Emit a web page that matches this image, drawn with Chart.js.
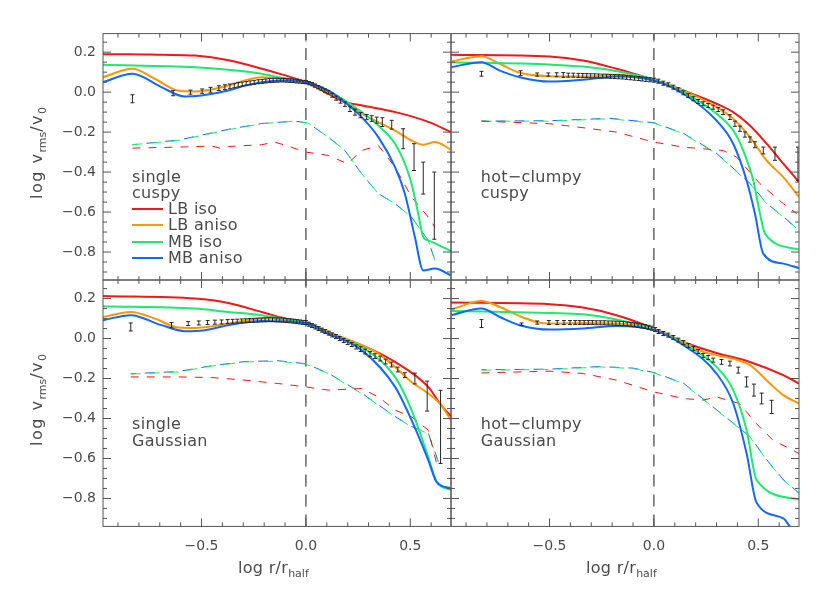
<!DOCTYPE html>
<html><head><meta charset="utf-8"><title>v_rms profiles</title>
<script src="https://cdn.jsdelivr.net/npm/chart.js@4.4.1/dist/chart.umd.min.js"></script>
<style>
html,body{margin:0;padding:0;background:#fff;}
#fig{position:relative;width:830px;height:593px;overflow:hidden;font-family:"DejaVu Sans",sans-serif;color:#4a4a4a;}
#fig canvas{position:absolute;left:0;top:0;}
.lbl{position:absolute;font-size:16px;line-height:16px;white-space:nowrap;letter-spacing:0.3px;}
.sub{font-size:11px;position:relative;top:4px;letter-spacing:0;}
.yt{position:absolute;font-size:16px;line-height:16px;white-space:nowrap;letter-spacing:1.5px;transform:translate(-50%,-50%) rotate(-90deg);}
.key{position:absolute;height:2px;width:31px;}
</style></head><body><div id="fig"></div>
<script>
// ---------- tick labels / names ----------
const xTickLabels = [-0.5, 0.0, 0.5];
const yTickLabels = [-0.8, -0.6, -0.4, -0.2, 0.0, 0.2];
const seriesNames = ['LB iso', 'LB aniso', 'MB iso', 'MB aniso'];
const panelNames = [['single', 'cuspy'], ['hot\u2212clumpy', 'cuspy'], ['single', 'Gaussian'], ['hot\u2212clumpy', 'Gaussian']];

// ---------- single / cuspy ----------
const scLBiso = [[-0.972,0.19],[-0.85,0.19],[-0.69,0.187],[-0.53,0.183],[-0.37,0.16],[-0.21,0.117],[-0.12,0.09],[0,0.05],[0.11,-0.01],[0.19,-0.05],[0.27,-0.067],[0.43,-0.1],[0.59,-0.15],[0.695,-0.2]];
const scLBaniso = [[-0.972,0.075],[-0.831,0.117],[-0.724,0.067],[-0.612,0.008],[-0.532,0.003],[-0.452,0.013],[-0.372,0.033],[-0.292,0.058],[-0.212,0.075],[-0.117,0.07],[0,0.05],[0.107,0],[0.187,-0.05],[0.267,-0.108],[0.347,-0.15],[0.427,-0.192],[0.506,-0.242],[0.562,-0.263],[0.618,-0.25],[0.695,-0.287]];
const scMBiso = [[-0.972,0.137],[-0.532,0.125],[-0.372,0.112],[-0.212,0.092],[-0.117,0.072],[0,0.05],[0.107,0.008],[0.187,-0.042],[0.267,-0.1],[0.347,-0.167],[0.427,-0.258],[0.474,-0.358],[0.506,-0.458],[0.538,-0.608],[0.562,-0.725],[0.586,-0.742],[0.695,-0.795]];
const scMBaniso = [[-0.972,0.05],[-0.831,0.092],[-0.692,0.025],[-0.58,-0.022],[-0.5,-0.017],[-0.372,0.008],[-0.292,0.033],[-0.212,0.05],[-0.117,0.058],[0,0.05],[0.107,0.008],[0.187,-0.05],[0.267,-0.125],[0.347,-0.225],[0.427,-0.375],[0.474,-0.508],[0.522,-0.725],[0.562,-0.892],[0.618,-0.883],[0.695,-0.917]];
const scLBisoD = [[-0.831,-0.28],[-0.612,-0.275],[-0.45,-0.27],[-0.40,-0.283],[-0.372,-0.272],[-0.25,-0.265],[-0.212,-0.263],[-0.15,-0.25],[-0.1,-0.265],[0,-0.3],[0.07,-0.31],[0.107,-0.317],[0.2,-0.358],[0.267,-0.292],[0.347,-0.267],[0.427,-0.375],[0.506,-0.525],[0.586,-0.625],[0.618,-0.675]];
const scMBisoD = [[-0.831,-0.263],[-0.612,-0.242],[-0.372,-0.188],[-0.212,-0.158],[-0.053,-0.145],[0.011,-0.155],[0.107,-0.225],[0.187,-0.292],[0.267,-0.408],[0.347,-0.508],[0.427,-0.558],[0.506,-0.625],[0.586,-0.742],[0.618,-0.842]];
const scMBanisoD = [[-0.831,-0.263],[-0.612,-0.24],[-0.372,-0.186],[-0.212,-0.157],[-0.053,-0.145],[0.011,-0.155],[0.107,-0.225],[0.187,-0.292],[0.267,-0.408],[0.347,-0.508],[0.427,-0.558],[0.506,-0.625],[0.586,-0.742],[0.618,-0.842]];
const scErrX = [-0.831,-0.636,-0.553,-0.497,-0.457,-0.417,-0.388,-0.364,-0.343,-0.324,-0.305,-0.286,-0.267,-0.248,-0.228,-0.209,-0.192,-0.174,-0.157,-0.139,-0.123,-0.107,-0.091,-0.075,-0.059,-0.043,-0.029,-0.014,0,0.014,0.029,0.043,0.059,0.075,0.091,0.107,0.126,0.145,0.166,0.187,0.211,0.235,0.262,0.291,0.315,0.339,0.366,0.411,0.466,0.518,0.562,0.615];
const scErrY = [-0.033,-0.005,0,0.005,0.012,0.02,0.025,0.03,0.033,0.037,0.04,0.043,0.046,0.049,0.052,0.054,0.056,0.058,0.059,0.06,0.06,0.06,0.059,0.058,0.057,0.055,0.053,0.051,0.05,0.045,0.04,0.033,0.025,0.017,0.008,0,-0.015,-0.03,-0.045,-0.06,-0.085,-0.1,-0.115,-0.125,-0.132,-0.14,-0.15,-0.163,-0.233,-0.325,-0.43,-0.568];
const scErrE = [0.02,0.013,0.01,0.011,0.012,0.012,0.012,0.011,0.011,0.011,0.01,0.01,0.01,0.01,0.01,0.01,0.01,0.01,0.01,0.01,0.009,0.009,0.009,0.009,0.009,0.009,0.008,0.008,0.008,0.008,0.008,0.008,0.008,0.008,0.009,0.009,0.01,0.01,0.01,0.011,0.012,0.015,0.013,0.013,0.014,0.015,0.022,0.022,0.05,0.067,0.08,0.168];

// ---------- hot-clumpy / cuspy ----------
const hcLBiso = [[-0.972,0.187],[-0.5,0.178],[-0.339,0.158],[-0.179,0.117],[-0.083,0.088],[0,0.062],[0.141,0.008],[0.30,-0.058],[0.38,-0.1],[0.46,-0.167],[0.54,-0.258],[0.62,-0.358],[0.695,-0.45]];
const hcLBaniso = [[-0.972,0.153],[-0.826,0.18],[-0.738,0.142],[-0.642,0.097],[-0.5,0.08],[-0.339,0.078],[-0.179,0.087],[0,0.058],[0.141,0.008],[0.30,-0.075],[0.38,-0.133],[0.46,-0.225],[0.54,-0.342],[0.62,-0.425],[0.695,-0.525]];
const hcMBiso = [[-0.972,0.15],[-0.5,0.138],[-0.339,0.128],[-0.179,0.105],[0,0.062],[0.141,0],[0.30,-0.108],[0.38,-0.192],[0.428,-0.292],[0.476,-0.442],[0.508,-0.608],[0.532,-0.708],[0.695,-0.788]];
const hcMBaniso = [[-0.972,0.125],[-0.826,0.15],[-0.738,0.108],[-0.642,0.075],[-0.5,0.053],[-0.339,0.062],[-0.179,0.078],[0,0.058],[0.141,-0.008],[0.30,-0.142],[0.38,-0.258],[0.444,-0.442],[0.484,-0.608],[0.524,-0.808],[0.62,-0.858],[0.695,-0.88]];
const hcLBisoD = [[-0.826,-0.145],[-0.5,-0.158],[-0.339,-0.178],[-0.179,-0.2],[0,-0.25],[0.141,-0.275],[0.332,-0.292],[0.396,-0.325],[0.508,-0.458],[0.62,-0.558],[0.684,-0.608]];
const hcMBisoD = [[-0.826,-0.145],[-0.5,-0.145],[-0.211,-0.133],[0,-0.155],[0.141,-0.208],[0.30,-0.308],[0.46,-0.458],[0.54,-0.558],[0.62,-0.625],[0.695,-0.692]];
const hcMBanisoD = [[-0.826,-0.145],[-0.5,-0.143],[-0.211,-0.131],[0,-0.153],[0.141,-0.206],[0.30,-0.306],[0.46,-0.456],[0.54,-0.556],[0.62,-0.623],[0.695,-0.69]];
const hcErrX = [-0.826,-0.639,-0.559,-0.506,-0.466,-0.434,-0.410,-0.386,-0.362,-0.341,-0.322,-0.303,-0.284,-0.265,-0.246,-0.227,-0.208,-0.188,-0.169,-0.150,-0.131,-0.112,-0.093,-0.073,-0.056,-0.038,-0.019,0,0.021,0.045,0.069,0.093,0.117,0.141,0.165,0.189,0.212,0.236,0.260,0.284,0.308,0.332,0.364,0.388,0.412,0.436,0.460,0.484,0.524,0.58,0.69];
const hcErrY = [0.092,0.095,0.088,0.088,0.087,0.086,0.085,0.085,0.084,0.083,0.083,0.082,0.082,0.081,0.08,0.08,0.079,0.078,0.077,0.076,0.074,0.072,0.07,0.068,0.066,0.064,0.062,0.06,0.055,0.045,0.037,0.025,0.012,-0.003,-0.017,-0.033,-0.047,-0.058,-0.067,-0.075,-0.087,-0.1,-0.125,-0.158,-0.183,-0.212,-0.237,-0.263,-0.292,-0.308,-0.358];
const hcErrE = [0.012,0.012,0.008,0.008,0.01,0.012,0.01,0.01,0.01,0.01,0.01,0.01,0.01,0.01,0.01,0.01,0.01,0.01,0.01,0.01,0.01,0.01,0.01,0.01,0.01,0.01,0.01,0.01,0.01,0.01,0.01,0.01,0.01,0.01,0.01,0.01,0.01,0.01,0.01,0.01,0.01,0.012,0.012,0.013,0.013,0.013,0.013,0.015,0.017,0.033,0.083];

// ---------- single / Gaussian ----------
const sgLBiso = [[-0.972,0.213],[-0.532,0.2],[-0.372,0.178],[-0.212,0.133],[-0.117,0.105],[0,0.075],[0.107,0.025],[0.267,-0.033],[0.427,-0.117],[0.586,-0.242],[0.642,-0.325],[0.695,-0.39]];
const sgLBaniso = [[-0.972,0.108],[-0.839,0.133],[-0.724,0.1],[-0.612,0.055],[-0.532,0.053],[-0.372,0.075],[-0.212,0.1],[-0.117,0.095],[0,0.078],[0.107,0.033],[0.267,-0.033],[0.347,-0.075],[0.427,-0.142],[0.506,-0.217],[0.586,-0.275],[0.642,-0.325],[0.695,-0.408]];
const sgMBiso = [[-0.972,0.162],[-0.532,0.15],[-0.372,0.133],[-0.212,0.117],[-0.117,0.1],[0,0.078],[0.107,0.025],[0.267,-0.042],[0.427,-0.192],[0.506,-0.358],[0.586,-0.592],[0.626,-0.717],[0.695,-0.758]];
const sgMBaniso = [[-0.972,0.092],[-0.839,0.117],[-0.692,0.067],[-0.58,0.037],[-0.484,0.042],[-0.372,0.067],[-0.212,0.088],[0,0.078],[0.107,0.025],[0.267,-0.058],[0.427,-0.242],[0.506,-0.408],[0.586,-0.608],[0.626,-0.717],[0.695,-0.75]];
const sgLBisoD = [[-0.839,-0.192],[-0.612,-0.192],[-0.452,-0.195],[-0.292,-0.208],[-0.133,-0.225],[0,-0.242],[0.107,-0.258],[0.267,-0.25],[0.347,-0.292],[0.427,-0.358],[0.506,-0.392],[0.586,-0.458],[0.634,-0.658]];
const sgMBisoD = [[-0.839,-0.178],[-0.612,-0.167],[-0.452,-0.138],[-0.292,-0.117],[-0.133,-0.113],[0,-0.128],[0.107,-0.175],[0.267,-0.275],[0.427,-0.392],[0.506,-0.442],[0.586,-0.475],[0.634,-0.617]];
const sgMBanisoD = [[-0.839,-0.176],[-0.612,-0.165],[-0.452,-0.136],[-0.292,-0.115],[-0.133,-0.111],[0,-0.126],[0.107,-0.173],[0.267,-0.273],[0.427,-0.39],[0.506,-0.44],[0.586,-0.473],[0.634,-0.615]];
const sgErrX = [-0.839,-0.644,-0.564,-0.513,-0.471,-0.436,-0.404,-0.375,-0.351,-0.329,-0.308,-0.289,-0.270,-0.251,-0.232,-0.214,-0.196,-0.178,-0.160,-0.142,-0.125,-0.108,-0.091,-0.075,-0.059,-0.044,-0.029,-0.014,0,0.014,0.029,0.045,0.061,0.077,0.093,0.110,0.126,0.144,0.162,0.181,0.200,0.220,0.241,0.262,0.284,0.307,0.331,0.356,0.382,0.410,0.440,0.474,0.522,0.581,0.645];
const sgErrY = [0.058,0.067,0.075,0.078,0.08,0.082,0.083,0.085,0.086,0.087,0.088,0.089,0.09,0.091,0.092,0.093,0.094,0.095,0.095,0.094,0.093,0.092,0.09,0.089,0.087,0.085,0.083,0.081,0.08,0.072,0.065,0.058,0.05,0.042,0.035,0.027,0.018,0.01,0,-0.01,-0.02,-0.03,-0.042,-0.053,-0.065,-0.077,-0.088,-0.1,-0.115,-0.13,-0.155,-0.183,-0.2,-0.288,-0.442];
const sgErrE = [0.02,0.013,0.01,0.01,0.01,0.01,0.01,0.01,0.01,0.01,0.01,0.01,0.01,0.01,0.01,0.01,0.01,0.01,0.01,0.01,0.01,0.01,0.01,0.01,0.01,0.01,0.01,0.01,0.01,0.01,0.01,0.01,0.01,0.01,0.01,0.01,0.01,0.01,0.01,0.01,0.01,0.01,0.01,0.012,0.012,0.012,0.012,0.012,0.012,0.012,0.012,0.012,0.027,0.075,0.183];

// ---------- hot-clumpy / Gaussian ----------
const hgLBiso = [[-0.972,0.18],[-0.498,0.172],[-0.339,0.155],[-0.179,0.117],[0,0.05],[0.141,-0.017],[0.30,-0.072],[0.46,-0.117],[0.62,-0.183],[0.695,-0.225]];
const hgLBaniso = [[-0.972,0.145],[-0.826,0.188],[-0.738,0.158],[-0.642,0.112],[-0.562,0.083],[-0.498,0.075],[-0.339,0.078],[-0.179,0.075],[0,0.045],[0.141,-0.017],[0.236,-0.067],[0.30,-0.083],[0.46,-0.133],[0.556,-0.225],[0.62,-0.283],[0.695,-0.325]];
const hgMBiso = [[-0.972,0.138],[-0.498,0.128],[-0.339,0.122],[-0.179,0.095],[0,0.045],[0.141,-0.025],[0.30,-0.142],[0.38,-0.258],[0.444,-0.458],[0.492,-0.708],[0.695,-0.805]];
const hgMBaniso = [[-0.972,0.117],[-0.826,0.15],[-0.738,0.108],[-0.642,0.067],[-0.498,0.045],[-0.339,0.05],[-0.179,0.063],[0,0.042],[0.141,-0.033],[0.30,-0.175],[0.38,-0.325],[0.444,-0.575],[0.492,-0.822],[0.62,-0.9],[0.652,-0.942]];
const hgLBisoD = [[-0.826,-0.172],[-0.498,-0.163],[-0.339,-0.175],[-0.179,-0.208],[0,-0.267],[0.141,-0.3],[0.236,-0.308],[0.30,-0.292],[0.41,-0.325],[0.49,-0.425],[0.57,-0.508],[0.695,-0.575]];
const hgMBisoD = [[-0.826,-0.158],[-0.498,-0.155],[-0.259,-0.142],[-0.099,-0.15],[0,-0.172],[0.141,-0.225],[0.30,-0.358],[0.46,-0.492],[0.54,-0.608],[0.62,-0.708],[0.695,-0.775]];
const hgMBanisoD = [[-0.826,-0.156],[-0.498,-0.153],[-0.259,-0.14],[-0.099,-0.148],[0,-0.17],[0.141,-0.223],[0.30,-0.356],[0.46,-0.49],[0.54,-0.606],[0.62,-0.706],[0.695,-0.773]];
const hgErrX = [-0.826,-0.634,-0.559,-0.503,-0.463,-0.431,-0.402,-0.377,-0.355,-0.334,-0.314,-0.295,-0.276,-0.257,-0.238,-0.219,-0.200,-0.182,-0.164,-0.146,-0.128,-0.110,-0.093,-0.076,-0.059,-0.042,-0.026,-0.010,0.006,0.022,0.045,0.069,0.093,0.117,0.141,0.165,0.189,0.212,0.236,0.260,0.284,0.324,0.364,0.404,0.444,0.479,0.516,0.564];
const hgErrY = [0.075,0.072,0.08,0.08,0.08,0.08,0.08,0.08,0.08,0.08,0.08,0.08,0.079,0.079,0.079,0.078,0.078,0.077,0.076,0.075,0.073,0.071,0.069,0.066,0.063,0.06,0.056,0.052,0.045,0.035,0.025,0.017,0.005,-0.008,-0.02,-0.035,-0.05,-0.065,-0.085,-0.095,-0.108,-0.117,-0.125,-0.158,-0.217,-0.258,-0.3,-0.342];
const hgErrE = [0.02,0.006,0.008,0.01,0.01,0.01,0.01,0.01,0.01,0.01,0.01,0.01,0.01,0.01,0.01,0.01,0.01,0.01,0.01,0.01,0.01,0.01,0.01,0.01,0.01,0.01,0.01,0.01,0.01,0.01,0.01,0.01,0.01,0.01,0.01,0.01,0.01,0.01,0.01,0.01,0.01,0.012,0.012,0.015,0.025,0.03,0.027,0.033];

// ---------- layout / style ----------
const COLORS = ['#f01818', '#ff9800', '#1ee870', '#1468ff'];
const X_RANGE = [-0.972, 0.695], Y_RANGE = [-0.94, 0.293];
const W = 830, H = 593, LEFT0 = 103, TOP0 = 33.6, PW = 348, PH = 246.4;

const panels = [
  {solid: [scLBiso, scLBaniso, scMBiso, scMBaniso], dashed: [scLBisoD, scMBisoD, scMBanisoD], err: [scErrX, scErrY, scErrE], col: 0, row: 0},
  {solid: [hcLBiso, hcLBaniso, hcMBiso, hcMBaniso], dashed: [hcLBisoD, hcMBisoD, hcMBanisoD], err: [hcErrX, hcErrY, hcErrE], col: 1, row: 0},
  {solid: [sgLBiso, sgLBaniso, sgMBiso, sgMBaniso], dashed: [sgLBisoD, sgMBisoD, sgMBanisoD], err: [sgErrX, sgErrY, sgErrE], col: 0, row: 1},
  {solid: [hgLBiso, hgLBaniso, hgMBiso, hgMBaniso], dashed: [hgLBisoD, hgMBisoD, hgMBanisoD], err: [hgErrX, hgErrY, hgErrE], col: 1, row: 1}
];

const fmt = v => v.toFixed(1).replace('-', '\u2212');
const TXT = '#4a4a4a', FRAME = '#555';

const framePlugin = {
  id: 'frame',
  afterDraw(chart, args, opts) {
    const {ctx, chartArea: a, scales: {x, y}} = chart;
    ctx.save();
    ctx.strokeStyle = FRAME; ctx.lineWidth = 1;
    ctx.strokeRect(a.left, a.top, a.right - a.left, a.bottom - a.top);
    ctx.beginPath();
    for (let k = -9; k <= 6; k++) {
      const px = x.getPixelForValue(k / 10);
      const len = (k % 5 === 0) ? 8 : 4;
      ctx.moveTo(px, a.bottom); ctx.lineTo(px, a.bottom - len);
      ctx.moveTo(px, a.top); ctx.lineTo(px, a.top + len);
    }
    for (let k = -18; k <= 5; k++) {
      const py = y.getPixelForValue(k * 0.05);
      const len = (k % 4 === 0) ? 8 : 4;
      ctx.moveTo(a.left, py); ctx.lineTo(a.left + len, py);
      ctx.moveTo(a.right, py); ctx.lineTo(a.right - len, py);
    }
    ctx.stroke();
    ctx.fillStyle = TXT;
    ctx.font = '14px "DejaVu Sans", sans-serif';
    if (opts.xLab) {
      ctx.textAlign = 'center'; ctx.textBaseline = 'middle';
      xTickLabels.forEach(v => ctx.fillText(fmt(v), x.getPixelForValue(v), a.bottom + 20));
    }
    if (opts.yLab) {
      ctx.textAlign = 'right'; ctx.textBaseline = 'middle';
      yTickLabels.forEach(v => ctx.fillText(fmt(v), a.left - 7, y.getPixelForValue(v)));
    }
    ctx.restore();
  }
};

const fig = document.getElementById('fig');
const toXY = arr => arr.map(p => ({x: p[0], y: p[1]}));

panels.forEach((p, i) => {
  const cv = document.createElement('canvas');
  cv.width = W; cv.height = H;
  fig.appendChild(cv);
  const left = LEFT0 + p.col * PW, top = TOP0 + p.row * PH;
  const ds = [];
  // error bars
  const eb = [];
  p.err[0].forEach((xv, j) => {
    eb.push({x: xv, y: p.err[1][j] - p.err[2][j]}, {x: xv, y: p.err[1][j] + p.err[2][j]}, {x: xv, y: null});
  });
  ds.push({data: eb, borderColor: '#262626', borderWidth: 1, pointStyle: 'line', pointRadius: 2,
           pointBorderColor: '#262626', pointBorderWidth: 1, spanGaps: false, tension: 0});
  // solid lines, blue on top
  for (let s = 3; s >= 0; s--) {
    ds.push({data: toXY(p.solid[s]), borderColor: COLORS[s], borderWidth: 2, pointRadius: 0,
             cubicInterpolationMode: 'monotone'});
  }
  // dashed lines
  const dcol = [COLORS[0], COLORS[2], COLORS[3]];
  const doff = [0, 0, 5];
  p.dashed.forEach((d, k) => {
    ds.push({data: toXY(d), borderColor: dcol[k], borderWidth: 1, pointRadius: 0, tension: 0,
             borderDash: k === 0 ? [8, 8] : [10, 9], borderDashOffset: doff[k]});
  });
  // x = 0 reference line
  ds.push({data: [{x: 0, y: Y_RANGE[0]}, {x: 0, y: Y_RANGE[1]}], borderColor: '#3c3c3c', borderWidth: 1.2,
           borderDash: [12, 8], pointRadius: 0});
  new Chart(cv, {
    type: 'line',
    data: {datasets: ds},
    options: {
      responsive: false, animation: false, events: [],
      layout: {padding: {left: left, top: top, right: W - left - PW, bottom: H - top - PH}},
      scales: {
        x: {type: 'linear', min: X_RANGE[0], max: X_RANGE[1], display: false},
        y: {type: 'linear', min: Y_RANGE[0], max: Y_RANGE[1], display: false}
      },
      plugins: {legend: {display: false}, tooltip: {enabled: false},
                frame: {xLab: p.row === 1, yLab: p.col === 0}}
    },
    plugins: [framePlugin]
  });
  // panel annotation text
  const tx = p.col === 0 ? 132 : 480.7;
  const ty = p.row === 0 ? 176.7 : 424;
  panelNames[i].forEach((t, k) => {
    const d = document.createElement('div');
    d.className = 'lbl'; d.textContent = t;
    d.style.left = tx + 'px'; d.style.top = (ty - 8 + k * 16.5) + 'px';
    fig.appendChild(d);
  });
});

// legend (top-left panel)
seriesNames.forEach((n, k) => {
  const cy = 209 + k * 16.4;
  const line = document.createElement('div');
  line.className = 'key'; line.style.background = COLORS[k];
  line.style.left = '132px'; line.style.top = (cy - 1) + 'px';
  fig.appendChild(line);
  const t = document.createElement('div');
  t.className = 'lbl'; t.textContent = n;
  t.style.left = '168px'; t.style.top = (cy - 8) + 'px';
  fig.appendChild(t);
});

// axis titles
[153, 400].forEach(cy => {
  const d = document.createElement('div');
  d.className = 'yt';
  d.innerHTML = 'log&nbsp;v<span class="sub">rms</span>/v<span class="sub">0</span>';
  d.style.left = '38px'; d.style.top = cy + 'px';
  fig.appendChild(d);
});
[238, 586].forEach(lx => {
  const d = document.createElement('div');
  d.className = 'lbl';
  d.innerHTML = 'log r/r<span class="sub">half</span>';
  d.style.left = lx + 'px'; d.style.top = '560px';
  fig.appendChild(d);
});
</script></body></html>
